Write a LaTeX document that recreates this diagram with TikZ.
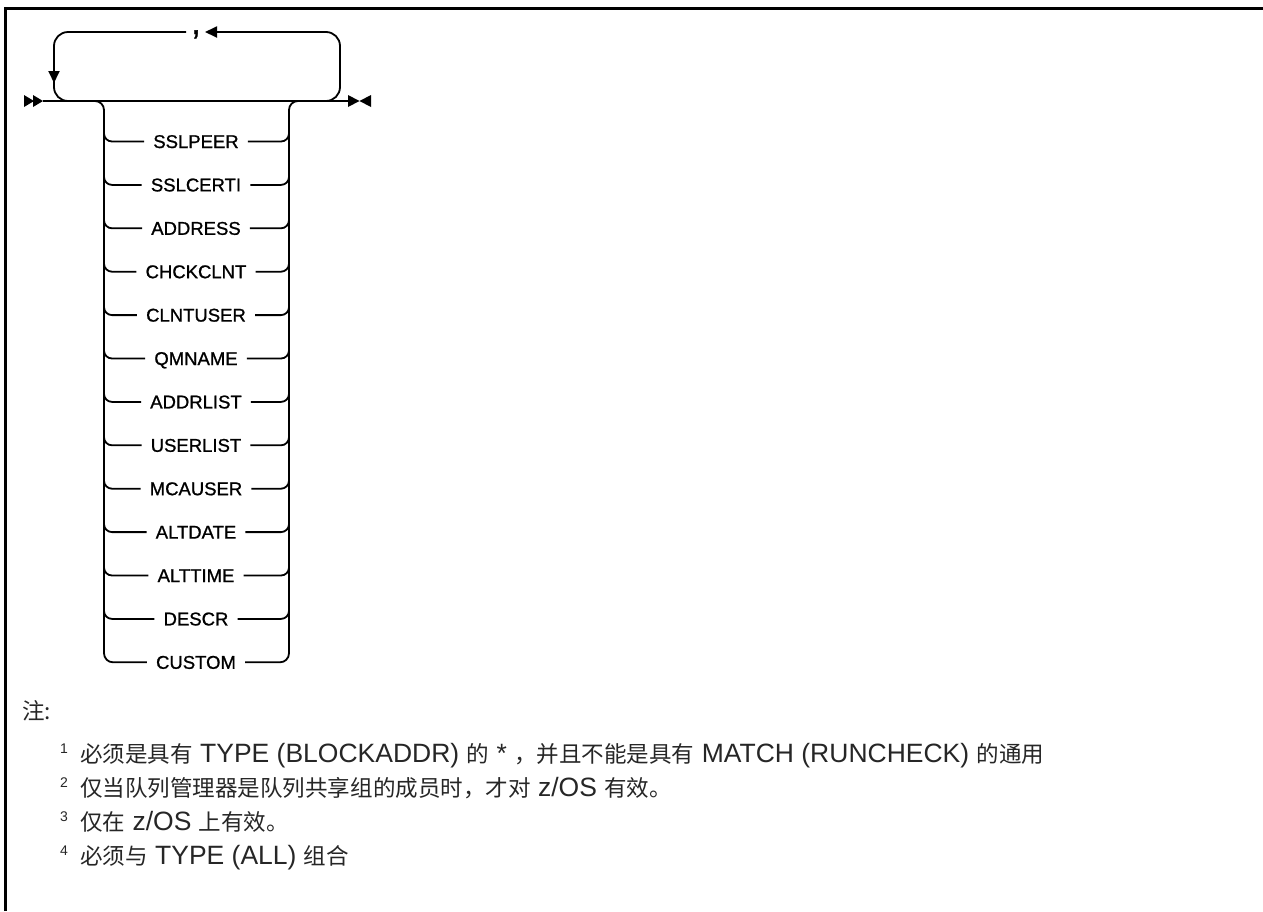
\documentclass[tikz,border=0pt]{standalone}
\usepackage{fontspec}
\setmainfont{Liberation Sans}
\newfontfamily\cjk[Scale=0.85]{Noto Sans CJK SC}
\newfontfamily\itemfont[FakeBold=1]{Liberation Sans}
\usetikzlibrary{arrows.meta}
\newcommand\zh[1]{{\cjk #1}}
\begin{document}
\begin{tikzpicture}[x=1pt,y=-1pt,
  rail/.style={line width=1.8pt},
  kw/.style={font=\itemfont\fontsize{18.5}{20}\selectfont, inner xsep=9pt, inner ysep=0pt, text height=13pt, text depth=0pt},
  note/.style={anchor=base west, inner sep=0pt, font=\fontsize{26.5}{30}\selectfont, text=black!85},
  num/.style={anchor=base west, inner sep=0pt, font=\fontsize{14}{16}\selectfont, text=black!85},
  tip/.style={-{Triangle[length=12pt,width=11pt]}}]
\useasboundingbox (0,0) rectangle (1263,911);
% frame
\draw[line width=3pt] (5.5,911) -- (5.5,8) -- (1263,8);
% main line
\coordinate (start) at (43,101);
\coordinate (end) at (349,101);
\draw[rail] (start) -- (end);
\fill (24,95) -- (34,101) -- (24,107) -- cycle;
\fill (33,95) -- (43,101) -- (33,107) -- cycle;
\fill (348,95) -- (359.5,101) -- (348,107) -- cycle;
\fill (371,95) -- (359.5,101) -- (371,107) -- cycle;
% repeat loop
\node[inner sep=0pt, anchor=base, font=\itemfont\fontsize{34}{34}\selectfont] (comma) at (196,34) {,};
\coordinate (ltip) at (205,32);
\coordinate (lend) at (186,32);
\coordinate (ldown) at (54,83);
\draw[rail, rounded corners=14pt, tip] (318,101) -| (340,32) -- (ltip);
\draw[rail, rounded corners=14pt, tip] (lend) -| (ldown);
\draw[rail, rounded corners=14pt] (54,80) |- (76,101);
% items
\foreach \t [count=\i] in {SSLPEER,SSLCERTI,ADDRESS,CHCKCLNT,CLNTUSER,QMNAME,ADDRLIST,USERLIST,MCAUSER,ALTDATE,ALTTIME,DESCR,CUSTOM}{
  \pgfmathsetmacro\yy{141.5+(\i-1)*43.4}
  \node[kw] (it\i) at (196,\yy) {\t};
}
\draw[rail, rounded corners=9pt] (86,101) -| (104,662.3) -- (it13.west);
\draw[rail, rounded corners=9pt] (it13.east) -| (289,101) -- (304,101);
\foreach \i in {1,...,12}{
  \pgfmathsetmacro\yy{141.5+(\i-1)*43.4-24}
  \draw[rail, rounded corners=8pt] (104,\yy) |- (it\i.west);
  \draw[rail, rounded corners=8pt] (it\i.east) -| (289,\yy);
}
% notes
\node[note] (zhu) at (22,719) {\zh{注:}};
\node[num] (num1) at (60,753) {1};
\node[note] (note1) at (80,762) {\zh{必须是具有} TYPE (BLOCKADDR) \zh{的} * \zh{，并且不能是具有} MATCH (RUNCHECK) \zh{的通用}};
\node[num] (num2) at (60,787) {2};
\node[note] (note2) at (80,796) {\zh{仅当队列管理器是队列共享组的成员时，才对} z/OS \zh{有效。}};
\node[num] (num3) at (60,821) {3};
\node[note] (note3) at (80,830) {\zh{仅在} z/OS \zh{上有效。}};
\node[num] (num4) at (60,855) {4};
\node[note] (note4) at (80,864) {\zh{必须与} TYPE (ALL) \zh{组合}};
\end{tikzpicture}
\end{document}
